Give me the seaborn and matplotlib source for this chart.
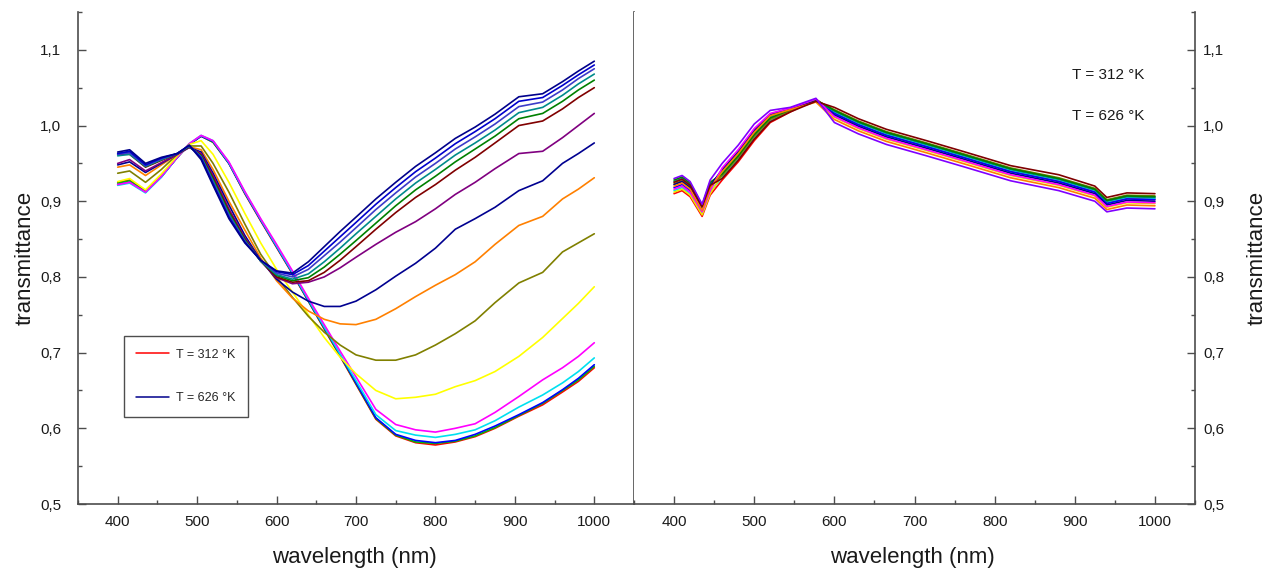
import matplotlib
matplotlib.use("Agg")
import matplotlib.pyplot as plt
import numpy as np
import pandas as pd
import seaborn as sns
from matplotlib.lines import Line2D
from matplotlib.ticker import MultipleLocator, FuncFormatter

# ---------------- data: left panel ----------------
wl_left = [400, 415, 435, 455, 475, 490, 505, 520, 540, 560, 580, 600, 620, 640, 660,
           680, 700, 725, 750, 775, 800, 825, 850, 875, 905, 935, 960, 980, 1000]

left_red     = [0.925, 0.928, 0.913, 0.933, 0.958, 0.975, 0.986, 0.978, 0.950, 0.910, 0.874, 0.839, 0.804, 0.768, 0.731, 0.695, 0.658, 0.612, 0.590, 0.581, 0.578, 0.582, 0.589, 0.600, 0.616, 0.631, 0.648, 0.662, 0.680]
left_green   = [0.924, 0.927, 0.913, 0.933, 0.958, 0.975, 0.986, 0.978, 0.950, 0.911, 0.875, 0.840, 0.805, 0.768, 0.732, 0.696, 0.659, 0.613, 0.591, 0.582, 0.580, 0.583, 0.590, 0.601, 0.617, 0.633, 0.650, 0.664, 0.682]
left_blue    = [0.922, 0.925, 0.912, 0.932, 0.958, 0.975, 0.986, 0.979, 0.950, 0.911, 0.875, 0.840, 0.805, 0.769, 0.733, 0.697, 0.660, 0.614, 0.592, 0.584, 0.581, 0.584, 0.592, 0.603, 0.618, 0.634, 0.651, 0.666, 0.684]
left_cyan    = [0.921, 0.924, 0.911, 0.932, 0.958, 0.976, 0.987, 0.980, 0.951, 0.912, 0.876, 0.841, 0.806, 0.770, 0.734, 0.698, 0.663, 0.618, 0.597, 0.591, 0.588, 0.592, 0.598, 0.610, 0.628, 0.644, 0.660, 0.675, 0.693]
left_magenta = [0.922, 0.925, 0.912, 0.933, 0.958, 0.976, 0.987, 0.980, 0.952, 0.913, 0.877, 0.843, 0.808, 0.772, 0.737, 0.702, 0.668, 0.625, 0.605, 0.598, 0.595, 0.600, 0.606, 0.621, 0.642, 0.664, 0.680, 0.695, 0.713]
left_yellow  = [0.926, 0.930, 0.915, 0.936, 0.960, 0.975, 0.980, 0.962, 0.925, 0.884, 0.845, 0.810, 0.780, 0.750, 0.720, 0.694, 0.672, 0.650, 0.639, 0.641, 0.645, 0.655, 0.663, 0.675, 0.695, 0.720, 0.745, 0.765, 0.787]
left_olive   = [0.937, 0.940, 0.925, 0.942, 0.962, 0.973, 0.973, 0.950, 0.912, 0.870, 0.830, 0.800, 0.773, 0.748, 0.727, 0.710, 0.697, 0.690, 0.690, 0.697, 0.710, 0.725, 0.742, 0.766, 0.792, 0.806, 0.833, 0.845, 0.857]
left_orange  = [0.945, 0.948, 0.934, 0.948, 0.962, 0.972, 0.968, 0.942, 0.900, 0.862, 0.825, 0.795, 0.772, 0.755, 0.744, 0.738, 0.737, 0.744, 0.758, 0.774, 0.789, 0.803, 0.820, 0.843, 0.868, 0.880, 0.903, 0.916, 0.931]
left_navy2   = [0.948, 0.952, 0.938, 0.950, 0.962, 0.971, 0.965, 0.937, 0.895, 0.855, 0.822, 0.797, 0.780, 0.768, 0.761, 0.761, 0.768, 0.783, 0.801, 0.818, 0.838, 0.863, 0.877, 0.892, 0.914, 0.927, 0.950, 0.963, 0.977]
left_purple  = [0.950, 0.955, 0.940, 0.951, 0.962, 0.971, 0.963, 0.934, 0.890, 0.852, 0.821, 0.799, 0.791, 0.793, 0.800, 0.812, 0.826, 0.843, 0.859, 0.873, 0.890, 0.909, 0.925, 0.943, 0.963, 0.966, 0.984, 1.000, 1.016]
left_maroon  = [0.962, 0.962, 0.945, 0.954, 0.963, 0.972, 0.961, 0.931, 0.887, 0.850, 0.821, 0.800, 0.793, 0.795, 0.806, 0.822, 0.840, 0.863, 0.885, 0.905, 0.922, 0.941, 0.958, 0.977, 1.000, 1.006, 1.022, 1.037, 1.050]
left_dgreen  = [0.963, 0.965, 0.946, 0.955, 0.963, 0.972, 0.960, 0.929, 0.885, 0.849, 0.821, 0.802, 0.795, 0.799, 0.813, 0.830, 0.848, 0.871, 0.894, 0.915, 0.933, 0.952, 0.969, 0.986, 1.009, 1.016, 1.032, 1.047, 1.060]
left_teal    = [0.960, 0.962, 0.946, 0.955, 0.963, 0.973, 0.959, 0.927, 0.883, 0.848, 0.821, 0.803, 0.797, 0.804, 0.820, 0.838, 0.857, 0.880, 0.903, 0.924, 0.942, 0.961, 0.977, 0.994, 1.017, 1.024, 1.040, 1.055, 1.068]
left_royal   = [0.962, 0.964, 0.947, 0.956, 0.963, 0.973, 0.958, 0.925, 0.881, 0.847, 0.822, 0.805, 0.800, 0.810, 0.828, 0.846, 0.865, 0.889, 0.911, 0.932, 0.950, 0.969, 0.985, 1.002, 1.025, 1.031, 1.047, 1.062, 1.075]
left_blue2   = [0.963, 0.966, 0.948, 0.957, 0.963, 0.974, 0.957, 0.923, 0.879, 0.846, 0.822, 0.807, 0.803, 0.815, 0.834, 0.853, 0.872, 0.896, 0.918, 0.939, 0.957, 0.976, 0.992, 1.009, 1.032, 1.037, 1.053, 1.067, 1.080]
left_navy    = [0.965, 0.968, 0.950, 0.958, 0.963, 0.974, 0.955, 0.921, 0.877, 0.845, 0.822, 0.808, 0.805, 0.820, 0.840, 0.860, 0.879, 0.903, 0.925, 0.946, 0.964, 0.983, 0.998, 1.015, 1.038, 1.042, 1.058, 1.072, 1.085]

left_series = [left_red, left_green, left_blue, left_cyan, left_magenta, left_yellow,
               left_olive, left_orange, left_navy2, left_purple, left_maroon, left_dgreen,
               left_teal, left_royal, left_blue2, left_navy]
left_colors = ["#FF0000", "#00C000", "#0000FF", "#00E0F0", "#FF00FF", "#FFFF00",
               "#808000", "#FF8000", "#000090", "#800080", "#800000", "#008000",
               "#008B8B", "#3C3CC8", "#0000CD", "#00008B"]

# ---------------- data: right panel ----------------
wl_right = [400, 410, 420, 435, 445, 460, 480, 500, 520, 545, 577, 600, 630, 665,
            715, 760, 820, 880, 925, 940, 965, 1000]

right_maroon  = [0.925, 0.929, 0.921, 0.893, 0.921, 0.930, 0.954, 0.982, 1.005, 1.018, 1.032, 1.024, 1.009, 0.995, 0.980, 0.966, 0.947, 0.935, 0.920, 0.905, 0.911, 0.910]
right_olive   = [0.923, 0.927, 0.919, 0.890, 0.920, 0.934, 0.958, 0.986, 1.008, 1.020, 1.033, 1.021, 1.006, 0.992, 0.977, 0.963, 0.944, 0.931, 0.917, 0.902, 0.908, 0.907]
right_green   = [0.928, 0.932, 0.924, 0.895, 0.925, 0.936, 0.960, 0.988, 1.010, 1.021, 1.034, 1.020, 1.005, 0.991, 0.976, 0.962, 0.943, 0.930, 0.916, 0.901, 0.907, 0.906]
right_teal    = [0.926, 0.930, 0.922, 0.893, 0.923, 0.938, 0.962, 0.990, 1.012, 1.022, 1.033, 1.019, 1.004, 0.990, 0.975, 0.961, 0.942, 0.929, 0.915, 0.900, 0.906, 0.905]
right_cyan    = [0.914, 0.918, 0.910, 0.884, 0.912, 0.932, 0.956, 0.984, 1.006, 1.019, 1.034, 1.018, 1.003, 0.989, 0.974, 0.960, 0.941, 0.928, 0.914, 0.899, 0.905, 0.904]
right_red     = [0.910, 0.914, 0.906, 0.880, 0.908, 0.928, 0.952, 0.980, 1.004, 1.018, 1.035, 1.017, 1.002, 0.988, 0.973, 0.959, 0.940, 0.927, 0.913, 0.898, 0.904, 0.903]
right_blue    = [0.918, 0.922, 0.914, 0.887, 0.916, 0.940, 0.964, 0.992, 1.014, 1.023, 1.033, 1.016, 1.001, 0.987, 0.972, 0.958, 0.939, 0.926, 0.912, 0.897, 0.903, 0.902]
right_navy    = [0.922, 0.926, 0.918, 0.889, 0.920, 0.942, 0.966, 0.994, 1.015, 1.023, 1.032, 1.014, 0.999, 0.985, 0.970, 0.956, 0.937, 0.924, 0.910, 0.895, 0.901, 0.900]
right_magenta = [0.916, 0.920, 0.912, 0.886, 0.914, 0.944, 0.968, 0.996, 1.016, 1.023, 1.035, 1.012, 0.997, 0.983, 0.968, 0.954, 0.935, 0.922, 0.908, 0.893, 0.899, 0.898]
right_yellow  = [0.912, 0.916, 0.908, 0.882, 0.910, 0.935, 0.959, 0.987, 1.009, 1.020, 1.033, 1.011, 0.996, 0.982, 0.967, 0.953, 0.934, 0.921, 0.907, 0.892, 0.898, 0.897]
right_orange  = [0.920, 0.924, 0.916, 0.888, 0.918, 0.939, 0.963, 0.991, 1.013, 1.021, 1.031, 1.008, 0.993, 0.979, 0.964, 0.950, 0.931, 0.918, 0.904, 0.889, 0.895, 0.894]
right_violet  = [0.930, 0.934, 0.926, 0.896, 0.928, 0.950, 0.974, 1.002, 1.020, 1.024, 1.036, 1.004, 0.989, 0.975, 0.960, 0.946, 0.927, 0.914, 0.900, 0.886, 0.891, 0.890]

right_series = [right_red, right_cyan, right_yellow, right_olive, right_blue, right_teal,
                right_green, right_navy, right_magenta, right_orange, right_maroon, right_violet]
right_colors = ["#FF0000", "#00E0F0", "#E8E800", "#808000", "#0000FF", "#008B8B",
                "#008000", "#00008B", "#FF00FF", "#FF8000", "#800000", "#8000FF"]

legend_labels = ["T = 312 \u00b0K", "T = 626 \u00b0K"]
x_label = "wavelength (nm)"
y_label = "transmittance"


def long_frame(wl, series):
    rows = []
    for i, s in enumerate(series):
        for w, v in zip(wl, s):
            rows.append((i, w, v))
    return pd.DataFrame(rows, columns=["curve", "wavelength", "transmittance"])


sns.set_theme(style="white")
plt.rcParams["font.family"] = ["Liberation Sans", "DejaVu Sans"]

W, H = 1270, 572
fig = plt.figure(figsize=(W / 100, H / 100), dpi=100)
ax_l = fig.add_axes([78 / W, 68 / H, 556 / W, 492 / H])
ax_r = fig.add_axes([634 / W, 68 / H, 561 / W, 492 / H])

df_l = long_frame(wl_left, left_series)
df_r = long_frame(wl_right, right_series)

sns.lineplot(data=df_l, x="wavelength", y="transmittance", hue="curve",
             palette=left_colors, legend=False, sort=False, estimator=None,
             linewidth=1.2, ax=ax_l)
sns.lineplot(data=df_r, x="wavelength", y="transmittance", hue="curve",
             palette=right_colors, legend=False, sort=False, estimator=None,
             linewidth=1.2, ax=ax_r)

comma = FuncFormatter(lambda v, p: f"{v:.1f}".replace(".", ","))
spine_col = "#4d4d4d"
text_col = "#1a1a1a"

for ax in (ax_l, ax_r):
    ax.set_xlim(350, 1050)
    ax.set_ylim(0.5, 1.15)
    ax.xaxis.set_major_locator(MultipleLocator(100))
    ax.xaxis.set_minor_locator(MultipleLocator(50))
    ax.yaxis.set_major_locator(MultipleLocator(0.1))
    ax.yaxis.set_minor_locator(MultipleLocator(0.05))
    ax.yaxis.set_major_formatter(comma)
    ax.spines["top"].set_visible(False)
    for s in ax.spines.values():
        s.set_color(spine_col)
        s.set_linewidth(1.2)
    ax.tick_params(axis="both", which="both", direction="in", colors=spine_col,
                   labelcolor=text_col, labelsize=11)
    ax.tick_params(which="major", length=6, width=1)
    ax.tick_params(which="minor", length=3, width=1)
    ax.tick_params(axis="x", which="both", bottom=True, top=False, pad=8)
    ax.set_xlabel(x_label, fontsize=16, color=text_col)
    ax.xaxis.set_label_coords(0.497, -0.088)
    ax.grid(False)

ax_l.tick_params(axis="y", which="both", left=True, right=False, pad=12)
ax_l.set_ylabel(y_label, fontsize=16, color=text_col)
ax_l.yaxis.set_label_coords(-0.077, 0.5)

ax_r.spines["left"].set_visible(False)
ax_r.yaxis.tick_right()
ax_r.yaxis.set_label_position("right")
ax_r.tick_params(axis="y", which="both", left=False, right=True, pad=6)
ax_r.set_ylabel(y_label, fontsize=16, color=text_col)
ax_r.yaxis.set_label_coords(1.092, 0.5)

handles = [Line2D([], [], color=left_colors[0], lw=1.1),
           Line2D([], [], color=left_colors[-1], lw=1.1)]
leg = ax_l.legend(handles, legend_labels, loc="lower left",
                  bbox_to_anchor=(0.071, 0.165), fontsize=9, frameon=True,
                  fancybox=False, edgecolor="#222222", handlelength=2.6,
                  handletextpad=0.6, labelspacing=2.5, borderpad=1.0)
leg.get_frame().set_linewidth(1.0)

ax_r.text(0.781, 0.872, legend_labels[0], transform=ax_r.transAxes, fontsize=11,
          color=text_col, va="center", ha="left")
ax_r.text(0.781, 0.789, legend_labels[1], transform=ax_r.transAxes, fontsize=11,
          color=text_col, va="center", ha="left")

fig.savefig("out.png", dpi=100)
